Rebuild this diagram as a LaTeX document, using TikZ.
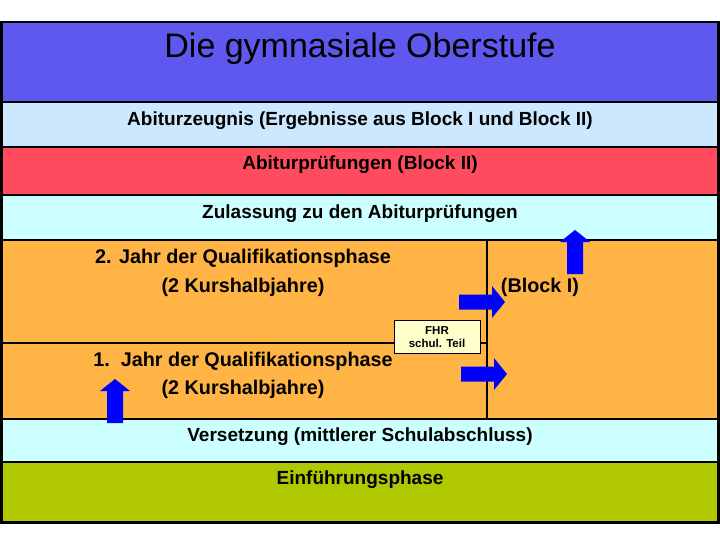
\documentclass[tikz,border=0pt]{standalone}
\usepackage{fontspec}
\setmainfont{Liberation Sans}
\usepackage{tikz}
\definecolor{titleblue}{HTML}{5F58EE}
\definecolor{paleblue}{HTML}{CCE8FF}
\definecolor{examred}{HTML}{FF4B5E}
\definecolor{palecyan}{HTML}{CCFFFF}
\definecolor{qorange}{HTML}{FFB445}
\definecolor{introgreen}{HTML}{B0C800}
\definecolor{notefill}{HTML}{FFFFCC}
\definecolor{arrowblue}{HTML}{0000FF}
\newcommand{\rightblock}[2]{\fill[arrowblue] (#1,#2) ++(0,-7.5) -- ++(33,0) -- ++(0,-8.5) -- ++(13,16) -- ++(-13,16) -- ++(0,-8.5) -- ++(-33,0) -- cycle;}
\newcommand{\upblock}[2]{\fill[arrowblue] (#1,#2) ++(-8,0) -- ++(0,-32) -- ++(-7,0) -- ++(15,-12) -- ++(15,12) -- ++(-7,0) -- ++(0,32) -- cycle;}

\begin{document}
\begin{tikzpicture}[x=1pt,y=-1pt,lbl/.style={font=\bfseries\fontsize{19}{22}\selectfont,inner sep=0pt},
  qlbl/.style={font=\bfseries\fontsize{19.8}{22}\selectfont,inner sep=0pt},sep/.style={line width=2pt}]
\useasboundingbox (0,0) rectangle (720,540);
% bands
\fill[titleblue] (0,22) rectangle (720,102);\fill[paleblue] (0,102) rectangle (720,147);
\fill[examred] (0,147) rectangle (720,195);\fill[palecyan] (0,195) rectangle (720,240);
\fill[qorange] (0,240) rectangle (720,419);\fill[palecyan] (0,419) rectangle (720,462);
\fill[introgreen] (0,462) rectangle (720,523);
\foreach \y in {102,147,195,240,419,462} \draw[sep] (0,\y)--(720,\y);
\draw[line width=1.6pt] (0,343)--(487,343);\draw[line width=1.6pt] (487,240)--(487,419);
\draw[line width=2.8pt] (1.4,22) rectangle (718.6,522.6);
% texts
\node[inner sep=0pt,font=\fontsize{34}{38}\selectfont] (title) at (360,48.5) {Die gymnasiale Oberstufe};
\node[lbl] (zeugnis) at (360,120.5) {Abiturzeugnis (Ergebnisse aus Block I und Block II)};
\node[lbl] (pruefung) at (360,164.5) {Abiturprüfungen (Block II)};
\node[lbl] (zulassung) at (360,213.5) {Zulassung zu den Abiturprüfungen};
\node[qlbl] (qtwo) at (243,258.5) {2. Jahr der Qualifikationsphase};\node[qlbl] (qtwohalf) at (243,287.5) {(2 Kurshalbjahre)};
\node[qlbl] (qone) at (243,361.5) {1.\ \ Jahr der Qualifikationsphase};\node[qlbl] (qonehalf) at (243,389.5) {(2 Kurshalbjahre)};
\node[qlbl] (blockone) at (540,287.5) {(Block I)};
\node[lbl] (versetzung) at (360,436.5) {Versetzung (mittlerer Schulabschluss)};
\node[lbl] (einf) at (360,479.5) {Einführungsphase};
\node[draw,line width=0.8pt,fill=notefill,minimum width=86pt,minimum height=33pt,inner sep=0pt,align=center,
  font=\bfseries\fontsize{11.5}{13.5}\selectfont] (fhr) at (437,337) {FHR\\schul. Teil};
% arrows
\rightblock{459}{302}\rightblock{461}{374}
\upblock{575}{274}\upblock{115}{423}
\end{tikzpicture}
\end{document}
